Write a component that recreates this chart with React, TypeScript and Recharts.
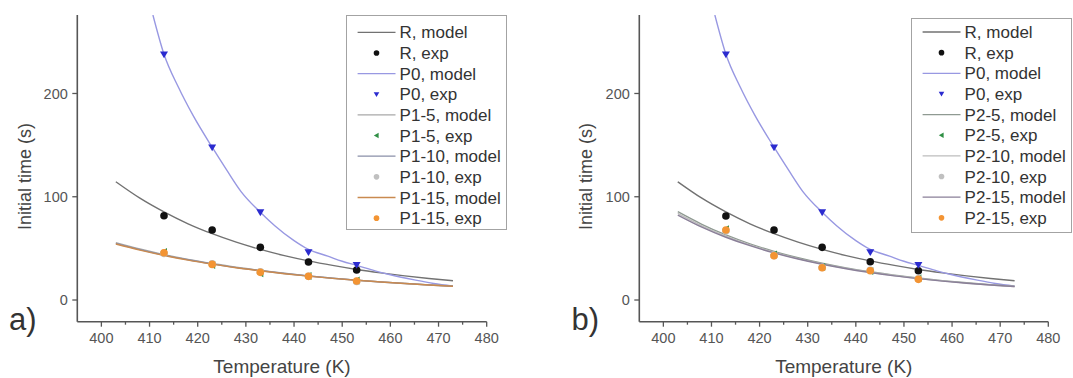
import React from 'react';
import { ComposedChart, Line, Scatter, XAxis, YAxis, Legend } from 'recharts';

const FONT = '"Liberation Sans", Arial, Helvetica, sans-serif';

// ---------- data ----------
const T_EXP = [413, 423, 433, 443, 453];
const T_MODEL = [403, 408, 413, 418, 423, 428, 433, 438, 443, 448, 453, 458, 463, 468, 473];
const T_P0_MODEL = [410.7, 413, 416, 419, 423, 426, 429, 433, 436, 440, 443, 447, 450, 453, 457, 460, 465, 469, 473];

const X_TICKS = [400, 405, 410, 415, 420, 425, 430, 435, 440, 445, 450, 455, 460, 465, 470, 475, 480];
const Y_TICKS = [0, 100, 200];
const X_DOMAIN = [395, 480];
const Y_DOMAIN = [-21, 276];

// shared
const P0_EXP = [237.8, 147.8, 84.9, 46.2, 33.9];
const P0_MODEL = [276, 238, 206, 179, 148, 126, 105, 85, 72, 57.5, 49, 42.5, 37.5, 33.5, 28, 24.5, 19.5, 16, 13.5];
const R_MODEL = [114.5, 98.6, 85.3, 73.8, 64.2, 56.0, 49.0, 43.0, 37.9, 33.5, 29.6, 26.3, 23.4, 20.9, 18.7];

// panel a
const R_EXP_A = [81.6, 67.8, 51.0, 36.8, 29.0];
const P1_5_EXP = [46.5, 34.0, 26.0, 23.2, 18.8];
const P1_10_EXP = [45.2, 35.0, 27.3, 23.0, 18.0];
const P1_15_EXP = [45.8, 34.5, 26.8, 22.9, 18.4];
const P1_5_MODEL = [55.6, 49.4, 44.0, 39.3, 35.3, 31.7, 28.7, 25.9, 23.4, 21.2, 19.3, 17.6, 16.1, 14.7, 13.5];
const P1_10_MODEL = [54.8, 48.8, 43.5, 39.0, 35.0, 31.4, 28.5, 25.7, 23.2, 21.1, 19.2, 17.5, 16.0, 14.6, 13.4];
const P1_15_MODEL = [54.2, 48.3, 43.1, 38.6, 34.7, 31.2, 28.3, 25.5, 23.1, 21.0, 19.1, 17.5, 16.0, 14.6, 13.4];

// panel b
const R_EXP_B = [81.3, 67.8, 51.0, 37.1, 28.4];
const P2_5_EXP = [68.5, 44.0, 32.0, 28.0, 21.0];
const P2_10_EXP = [67.0, 43.0, 31.5, 28.8, 20.5];
const P2_15_EXP = [67.8, 42.9, 31.3, 28.4, 20.0];
const P2_5_MODEL = [85.5, 73.3, 63.0, 54.4, 47.1, 40.9, 35.6, 31.1, 27.4, 24.1, 21.3, 18.8, 16.7, 14.9, 13.3];
const P2_10_MODEL = [83.8, 71.8, 61.8, 53.4, 46.2, 40.1, 35.0, 30.6, 26.9, 23.7, 20.9, 18.5, 16.4, 14.6, 13.0];
const P2_15_MODEL = [82.3, 70.6, 60.8, 52.6, 45.6, 39.7, 34.6, 30.3, 26.6, 23.4, 20.7, 18.3, 16.3, 14.5, 13.0];

type Shape = 'circle' | 'down' | 'left';
type SeriesDef = {
  name: string;
  kind: 'line' | 'scatter';
  T: number[];
  v: number[];
  color: string;
  shape?: Shape;
};

const SERIES_A: SeriesDef[] = [
  { name: 'R, model', kind: 'line', T: T_MODEL, v: R_MODEL, color: '#727272' },
  { name: 'R, exp', kind: 'scatter', T: T_EXP, v: R_EXP_A, color: '#111111', shape: 'circle' },
  { name: 'P0, model', kind: 'line', T: T_P0_MODEL, v: P0_MODEL, color: '#9898e2' },
  { name: 'P0, exp', kind: 'scatter', T: T_EXP, v: P0_EXP, color: '#2b2bcf', shape: 'down' },
  { name: 'P1-5, model', kind: 'line', T: T_MODEL, v: P1_5_MODEL, color: '#a8a8a8' },
  { name: 'P1-5, exp', kind: 'scatter', T: T_EXP, v: P1_5_EXP, color: '#2f8f44', shape: 'left' },
  { name: 'P1-10, model', kind: 'line', T: T_MODEL, v: P1_10_MODEL, color: '#8a8fa8' },
  { name: 'P1-10, exp', kind: 'scatter', T: T_EXP, v: P1_10_EXP, color: '#c0c0c0', shape: 'circle' },
  { name: 'P1-15, model', kind: 'line', T: T_MODEL, v: P1_15_MODEL, color: '#c98a50' },
  { name: 'P1-15, exp', kind: 'scatter', T: T_EXP, v: P1_15_EXP, color: '#f39433', shape: 'circle' },
];

const SERIES_B: SeriesDef[] = [
  { name: 'R, model', kind: 'line', T: T_MODEL, v: R_MODEL, color: '#727272' },
  { name: 'R, exp', kind: 'scatter', T: T_EXP, v: R_EXP_B, color: '#111111', shape: 'circle' },
  { name: 'P0, model', kind: 'line', T: T_P0_MODEL, v: P0_MODEL, color: '#9898e2' },
  { name: 'P0, exp', kind: 'scatter', T: T_EXP, v: P0_EXP, color: '#2b2bcf', shape: 'down' },
  { name: 'P2-5, model', kind: 'line', T: T_MODEL, v: P2_5_MODEL, color: '#8f9a92' },
  { name: 'P2-5, exp', kind: 'scatter', T: T_EXP, v: P2_5_EXP, color: '#2f8f44', shape: 'left' },
  { name: 'P2-10, model', kind: 'line', T: T_MODEL, v: P2_10_MODEL, color: '#bdbdbd' },
  { name: 'P2-10, exp', kind: 'scatter', T: T_EXP, v: P2_10_EXP, color: '#c0c0c0', shape: 'circle' },
  { name: 'P2-15, model', kind: 'line', T: T_MODEL, v: P2_15_MODEL, color: '#8a7f98' },
  { name: 'P2-15, exp', kind: 'scatter', T: T_EXP, v: P2_15_EXP, color: '#f39433', shape: 'circle' },
];

const toPts = (xs: number[], ys: number[]) => xs.map((T, i) => ({ T, v: ys[i] }));

// ---------- marks ----------
const Marker = ({ cx, cy, shape, color, s }: { cx: number; cy: number; shape: Shape; color: string; s: number }) => {
  if (cx == null || cy == null) return null;
  if (shape === 'down') {
    return <path d={`M${cx - s},${cy - s * 0.75} L${cx + s},${cy - s * 0.75} L${cx},${cy + s * 0.95} Z`} fill={color} />;
  }
  if (shape === 'left') {
    return <path d={`M${cx + s * 0.75},${cy - s} L${cx + s * 0.75},${cy + s} L${cx - s * 0.95},${cy} Z`} fill={color} />;
  }
  return <circle cx={cx} cy={cy} r={s} fill={color} />;
};

const AXIS_COLOR = '#565656';
const TICK_COLOR = '#555555';

const XTick = (props: any) => {
  const { x, y, payload } = props;
  const major = payload.value % 10 === 0;
  return (
    <g>
      <line x1={x} x2={x} y1={y} y2={y + (major ? 5 : 3)} stroke={AXIS_COLOR} strokeWidth={1.3} />
      {major && (
        <text x={x} y={y + 21.3} textAnchor="middle" fontSize={14.5} fill={TICK_COLOR} fontFamily={FONT}>
          {payload.value}
        </text>
      )}
    </g>
  );
};

const YTick = (props: any) => {
  const { x, y, payload } = props;
  return (
    <g>
      <line x1={x - 5} x2={x} y1={y} y2={y} stroke={AXIS_COLOR} strokeWidth={1.3} />
      <text x={x - 9.5} y={y} dy="0.36em" textAnchor="end" fontSize={14.5} fill={TICK_COLOR} fontFamily={FONT}>
        {payload.value}
      </text>
    </g>
  );
};

const LegendBox = ({ items, rowTop }: { items: SeriesDef[]; rowTop: number }) => (
  <div style={{ width: 161, height: 215, border: '1px solid #a3a3a3', boxSizing: 'border-box', background: '#fff' }}>
    <svg width={159} height={213} style={{ display: 'block' }}>
      {items.map((s, i) => {
        const cy = rowTop + i * 20.65;
        return (
          <g key={s.name}>
            {s.kind === 'line' ? (
              <line x1={10.6} x2={48.5} y1={cy} y2={cy} stroke={s.color} strokeWidth={1.3} />
            ) : (
              <Marker cx={29.5} cy={cy} shape={s.shape as Shape} color={s.color} s={2.8} />
            )}
            <text x={52.6} y={cy} dy="0.36em" fontSize={17} fill="#333" fontFamily={FONT}>
              {s.name}
            </text>
          </g>
        );
      })}
    </svg>
  </div>
);

type PanelProps = {
  left: number;
  width: number;
  plotLeft: number;
  plotRight: number;
  series: SeriesDef[];
  legendLeft: number;
  legendTop: number;
  rowTop: number;
};

const PLOT_TOP = 15;
const PLOT_BOTTOM = 321.7;
const H = 378;
const Y_AXIS_W = 60;
const X_AXIS_H = 40;

const Panel = ({ left, width, plotLeft, plotRight, series, legendLeft, legendTop, rowTop }: PanelProps) => {
  const lines = series.filter((s) => s.kind === 'line');
  const scatters = series.filter((s) => s.kind === 'scatter');
  return (
    <div style={{ position: 'absolute', left, top: 0, width, height: H }}>
      <ComposedChart
        width={width}
        height={H}
        margin={{
          top: PLOT_TOP,
          left: plotLeft - Y_AXIS_W,
          right: width - plotRight,
          bottom: H - PLOT_BOTTOM - X_AXIS_H,
        }}
      >
        <XAxis
          type="number"
          dataKey="T"
          domain={X_DOMAIN}
          allowDataOverflow
          ticks={X_TICKS}
          interval={0}
          height={X_AXIS_H}
          tickLine={false}
          tickSize={0}
          tickMargin={0}
          tick={<XTick />}
          axisLine={{ stroke: AXIS_COLOR, strokeWidth: 1.6 }}
        />
        <YAxis
          type="number"
          dataKey="v"
          domain={Y_DOMAIN}
          allowDataOverflow
          ticks={Y_TICKS}
          interval={0}
          width={Y_AXIS_W}
          tickLine={false}
          tickSize={0}
          tickMargin={0}
          tick={<YTick />}
          axisLine={{ stroke: AXIS_COLOR, strokeWidth: 1.6 }}
        />
        {lines.map((s) => (
          <Line
            key={s.name}
            name={s.name}
            data={toPts(s.T, s.v)}
            dataKey="v"
            type="monotone"
            stroke={s.color}
            strokeWidth={1.4}
            dot={false}
            activeDot={false}
            isAnimationActive={false}
          />
        ))}
        {scatters.map((s) => (
          <Scatter
            key={s.name}
            name={s.name}
            data={toPts(s.T, s.v)}
            dataKey="v"
            fill={s.color}
            isAnimationActive={false}
            shape={(p: any) => (
              <Marker cx={p.cx} cy={p.cy} shape={s.shape as Shape} color={s.color} s={s.shape === 'circle' ? 3.8 : 4} />
            )}
          />
        ))}
        <Legend
          layout="vertical"
          align="center"
          verticalAlign="middle"
          width={161}
          height={215}
          wrapperStyle={{ left: legendLeft, top: legendTop, width: 161, height: 215 }}
          content={() => <LegendBox items={series} rowTop={rowTop} />}
        />
      </ComposedChart>
    </div>
  );
};

const Titles = () => (
  <svg width={1073} height={378} style={{ position: 'absolute', left: 0, top: 0, pointerEvents: 'none' }}>
    <text x={25} y={176.5} dy="0.36em" transform="rotate(-90 25 176.5)" textAnchor="middle" fontSize={18} fill="#444" fontFamily={FONT}>
      Initial time (s)
    </text>
    <text x={282} y={373.3} textAnchor="middle" fontSize={19} fill="#444" fontFamily={FONT}>
      Temperature (K)
    </text>
    <text x={9} y={330} fontSize={31} fill="#333" fontFamily={FONT}>
      a)
    </text>
    <text x={585.5} y={176.5} dy="0.36em" transform="rotate(-90 585.5 176.5)" textAnchor="middle" fontSize={18} fill="#444" fontFamily={FONT}>
      Initial time (s)
    </text>
    <text x={843.8} y={373.3} textAnchor="middle" fontSize={19} fill="#444" fontFamily={FONT}>
      Temperature (K)
    </text>
    <text x={571.5} y={330} fontSize={31} fill="#333" fontFamily={FONT}>
      b)
    </text>
  </svg>
);

export default function App() {
  return (
    <div style={{ position: 'absolute', left: 0, top: 0, width: 1073, height: 378, background: '#fff', overflow: 'hidden' }}>
      <Panel
        left={0}
        width={540}
        plotLeft={77.3}
        plotRight={486.7}
        series={SERIES_A}
        legendLeft={345.7}
        legendTop={15}
        rowTop={16.3}
      />
      <Panel
        left={560}
        width={513}
        plotLeft={79.3}
        plotRight={488.3}
        series={SERIES_B}
        legendLeft={350.7}
        legendTop={18.3}
        rowTop={13}
      />
      <Titles />
    </div>
  );
}
